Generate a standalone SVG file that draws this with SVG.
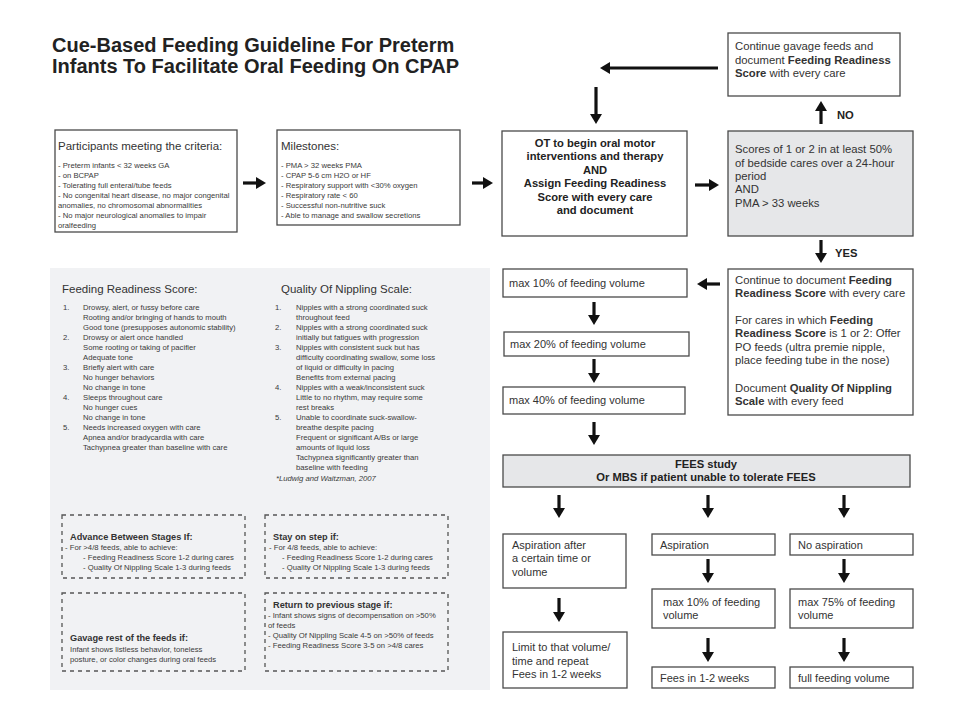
<svg xmlns="http://www.w3.org/2000/svg" width="960" height="720" viewBox="0 0 960 720">
<style>
text{font-family:"Liberation Sans",Arial,sans-serif;fill:#2a2a2a}
.title{font-size:20px;font-weight:bold;fill:#222}
.box{fill:#fff;stroke:#4a4a4a;stroke-width:1.3}
.gbox{fill:#e6e7e9;stroke:#4a4a4a;stroke-width:1.3}
.dash{fill:none;stroke:#555;stroke-width:1.3;stroke-dasharray:4 4}
.h1{font-size:11.5px;fill:#333}
.sm{font-size:7.7px;fill:#3a3a3a}
.md{font-size:11.3px;fill:#333}
.mb{font-size:11.2px;font-weight:bold;fill:#222}
.vb{font-size:11px;fill:#333}
.db{font-size:9.2px;font-weight:bold;fill:#333}
.it{font-style:italic}
.b{font-weight:bold}
.arr line{stroke:#111;stroke-width:3.2;marker-end:url(#ah)}
</style>
<defs>
<marker id="ah" viewBox="0 0 10 12" markerUnits="userSpaceOnUse" markerWidth="10" markerHeight="12" refX="4" refY="6" orient="auto">
<path d="M0,0 L10,6 L0,12 z" fill="#111"/>
</marker>
</defs>
<rect width="960" height="720" fill="#fff"/>

<g id="title">
<text class="title" x="52" y="52">Cue-Based Feeding Guideline For Preterm</text>
<text class="title" x="52" y="73">Infants To Facilitate Oral Feeding On CPAP</text>
</g>

<g id="gavage">
<rect class="box" x="728" y="33" width="172" height="63"/>
<text class="md" x="735" y="50">Continue gavage feeds and</text>
<text class="md" x="735" y="64">document <tspan class="b">Feeding Readiness</tspan></text>
<text class="md" x="735" y="77"><tspan class="b">Score</tspan> with every care</text>
</g>

<g id="participants">
<rect class="box" x="55" y="130" width="182" height="102"/>
<text class="h1" x="58" y="150">Participants meeting the criteria:</text>
<text class="sm" x="58" y="168">- Preterm infants &lt; 32 weeks GA</text>
<text class="sm" x="58" y="178">- on BCPAP</text>
<text class="sm" x="58" y="188">- Tolerating full enteral/tube feeds</text>
<text class="sm" x="58" y="198">- No congenital heart disease, no major congenital</text>
<text class="sm" x="58" y="208">anomalies, no chromosomal abnormalities</text>
<text class="sm" x="58" y="218">- No major neurological anomalies to impair</text>
<text class="sm" x="58" y="228">oralfeeding</text>
</g>

<g id="milestones">
<rect class="box" x="277" y="130" width="183" height="95"/>
<text class="h1" x="281" y="150">Milestones:</text>
<text class="sm" x="281" y="168">- PMA &gt; 32 weeks PMA</text>
<text class="sm" x="281" y="178">- CPAP 5-6 cm H2O or HF</text>
<text class="sm" x="281" y="188">- Respiratory support with &lt;30% oxygen</text>
<text class="sm" x="281" y="198">- Respiratory rate &lt; 60</text>
<text class="sm" x="281" y="208">- Successful non-nutritive suck</text>
<text class="sm" x="281" y="218">- Able to manage and swallow secretions</text>
</g>

<g id="ot">
<rect class="box" x="502" y="131" width="185" height="105"/>
<g text-anchor="middle">
<text class="mb" x="595" y="147">OT to begin oral motor</text>
<text class="mb" x="595" y="160">interventions and therapy</text>
<text class="mb" x="595" y="174">AND</text>
<text class="mb" x="595" y="187">Assign Feeding Readiness</text>
<text class="mb" x="595" y="201">Score with every care</text>
<text class="mb" x="595" y="214">and document</text>
</g>
</g>

<g id="scores">
<rect class="gbox" x="728" y="131" width="185" height="105"/>
<text class="md" x="735" y="153">Scores of 1 or 2 in at least 50%</text>
<text class="md" x="735" y="167">of bedside cares over a 24-hour</text>
<text class="md" x="735" y="180">period</text>
<text class="md" x="735" y="193">AND</text>
<text class="md" x="735" y="207">PMA &gt; 33 weeks</text>
</g>

<g id="panel">
<rect x="50" y="268" width="440" height="422" fill="#f1f2f4"/>
<g id="readiness">
<text class="h1" x="62" y="293">Feeding Readiness Score:</text>
<text class="sm" x="63" y="310">1.</text><text class="sm" x="83" y="310">Drowsy, alert, or fussy before care</text>
<text class="sm" x="83" y="320">Rooting and/or bringing of hands to mouth</text>
<text class="sm" x="83" y="330">Good tone (presupposes autonomic stability)</text>
<text class="sm" x="63" y="340">2.</text><text class="sm" x="83" y="340">Drowsy or alert once handled</text>
<text class="sm" x="83" y="350">Some rooting or taking of pacifier</text>
<text class="sm" x="83" y="360">Adequate tone</text>
<text class="sm" x="63" y="370">3.</text><text class="sm" x="83" y="370">Briefly alert with care</text>
<text class="sm" x="83" y="380">No hunger behaviors</text>
<text class="sm" x="83" y="390">No change in tone</text>
<text class="sm" x="63" y="400">4.</text><text class="sm" x="83" y="400">Sleeps throughout care</text>
<text class="sm" x="83" y="410">No hunger cues</text>
<text class="sm" x="83" y="420">No change in tone</text>
<text class="sm" x="63" y="430">5.</text><text class="sm" x="83" y="430">Needs increased oxygen with care</text>
<text class="sm" x="83" y="440">Apnea and/or bradycardia with care</text>
<text class="sm" x="83" y="450">Tachypnea greater than baseline with care</text>
</g>
<g id="nippling">
<text class="h1" x="281" y="293">Quality Of Nippling Scale:</text>
<text class="sm" x="275" y="310">1.</text><text class="sm" x="296" y="310">Nipples with a strong coordinated suck</text>
<text class="sm" x="296" y="320">throughout feed</text>
<text class="sm" x="275" y="330">2.</text><text class="sm" x="296" y="330">Nipples with a strong coordinated suck</text>
<text class="sm" x="296" y="340">initially but fatigues with progression</text>
<text class="sm" x="275" y="350">3.</text><text class="sm" x="296" y="350">Nipples with consistent suck but has</text>
<text class="sm" x="296" y="360">difficulty coordinating swallow, some loss</text>
<text class="sm" x="296" y="370">of liquid or difficulty in pacing</text>
<text class="sm" x="296" y="380">Benefits from external pacing</text>
<text class="sm" x="275" y="390">4.</text><text class="sm" x="296" y="390">Nipples with a weak/inconsistent suck</text>
<text class="sm" x="296" y="400">Little to no rhythm, may require some</text>
<text class="sm" x="296" y="410">rest breaks</text>
<text class="sm" x="275" y="420">5.</text><text class="sm" x="296" y="420">Unable to coordinate suck-swallow-</text>
<text class="sm" x="296" y="430">breathe despite pacing</text>
<text class="sm" x="296" y="440">Frequent or significant A/Bs or large</text>
<text class="sm" x="296" y="450">amounts of liquid loss</text>
<text class="sm" x="296" y="460">Tachypnea significantly greater than</text>
<text class="sm" x="296" y="470">baseline with feeding</text>
<text class="sm it" x="276" y="481">*Ludwig and Waitzman, 2007</text>
</g>
<g id="advance">
<rect class="dash" x="62" y="515" width="183" height="63"/>
<text class="db" x="70" y="540">Advance Between Stages If:</text>
<text class="sm" x="65" y="550">- For &gt;4/8 feeds, able to achieve:</text>
<text class="sm" x="83" y="560">- Feeding Readiness Score 1-2 during cares</text>
<text class="sm" x="83" y="570">- Quality Of Nippling Scale 1-3 during feeds</text>
</g>
<g id="stay">
<rect class="dash" x="265" y="515" width="183" height="63"/>
<text class="db" x="273" y="540">Stay on step if:</text>
<text class="sm" x="269" y="550">- For 4/8 feeds, able to achieve:</text>
<text class="sm" x="282" y="560">- Feeding Readiness Score 1-2 during cares</text>
<text class="sm" x="282" y="570">- Quality Of Nippling Scale 1-3 during feeds</text>
</g>
<g id="gavage-rest">
<rect class="dash" x="62" y="593" width="183" height="78"/>
<text class="db" x="70" y="641">Gavage rest of the feeds if:</text>
<text class="sm" x="70" y="652">Infant shows listless behavior, toneless</text>
<text class="sm" x="70" y="662">posture, or color changes during oral feeds</text>
</g>
<g id="return">
<rect class="dash" x="265" y="593" width="183" height="78"/>
<text class="db" x="273" y="608">Return to previous stage if:</text>
<text class="sm" x="268" y="618">- Infant shows signs of decompensation on &gt;50%</text>
<text class="sm" x="268" y="628">of feeds</text>
<text class="sm" x="268" y="638">- Quality Of Nippling Scale 4-5 on &gt;50% of feeds</text>
<text class="sm" x="268" y="648">- Feeding Readiness Score 3-5 on &gt;4/8 cares</text>
</g>
</g>

<g id="max10">
<rect class="box" x="503" y="269" width="184" height="28"/>
<text class="vb" x="509" y="287">max 10% of feeding volume</text>
</g>
<g id="max20">
<rect class="box" x="504" y="332" width="185" height="24"/>
<text class="vb" x="510" y="348">max 20% of feeding volume</text>
</g>
<g id="max40">
<rect class="box" x="503" y="387" width="182" height="27"/>
<text class="vb" x="509" y="404">max 40% of feeding volume</text>
</g>

<g id="document">
<rect class="box" x="728" y="269" width="185" height="146"/>
<text class="md" x="735" y="284">Continue to document <tspan class="b">Feeding</tspan></text>
<text class="md" x="735" y="297"><tspan class="b">Readiness Score</tspan> with every care</text>
<text class="md" x="735" y="324">For cares in which <tspan class="b">Feeding</tspan></text>
<text class="md" x="735" y="337"><tspan class="b">Readiness Score</tspan> is 1 or 2: Offer</text>
<text class="md" x="735" y="351">PO feeds (ultra premie nipple,</text>
<text class="md" x="735" y="364">place feeding tube in the nose)</text>
<text class="md" x="735" y="392">Document <tspan class="b">Quality Of Nippling</tspan></text>
<text class="md" x="735" y="405"><tspan class="b">Scale</tspan> with every feed</text>
</g>

<g id="fees">
<rect class="gbox" x="503" y="455" width="407" height="32"/>
<text class="mb" x="706" y="468" text-anchor="middle">FEES study</text>
<text class="mb" x="706" y="481" text-anchor="middle">Or MBS if patient unable to tolerate FEES</text>
</g>

<g id="asp-after">
<rect class="box" x="503" y="534" width="123" height="54"/>
<text class="vb" x="512" y="549">Aspiration after</text>
<text class="vb" x="512" y="562">a certain time or</text>
<text class="vb" x="512" y="576">volume</text>
</g>
<g id="aspiration">
<rect class="box" x="652" y="534" width="123" height="21"/>
<text class="vb" x="660" y="549">Aspiration</text>
</g>
<g id="no-aspiration">
<rect class="box" x="790" y="534" width="123" height="21"/>
<text class="vb" x="798" y="549">No aspiration</text>
</g>
<g id="asp-max10">
<rect class="box" x="652" y="589" width="123" height="39"/>
<text class="vb" x="663" y="606">max 10% of feeding</text>
<text class="vb" x="663" y="619">volume</text>
</g>
<g id="noasp-max75">
<rect class="box" x="790" y="589" width="123" height="39"/>
<text class="vb" x="798" y="606">max 75% of feeding</text>
<text class="vb" x="798" y="619">volume</text>
</g>
<g id="limit">
<rect class="box" x="503" y="632" width="124" height="56"/>
<text class="vb" x="512" y="651">Limit to that volume/</text>
<text class="vb" x="512" y="665">time and repeat</text>
<text class="vb" x="512" y="678">Fees in 1-2 weeks</text>
</g>
<g id="fees-weeks">
<rect class="box" x="652" y="667" width="123" height="21"/>
<text class="vb" x="660" y="682">Fees in 1-2 weeks</text>
</g>
<g id="full">
<rect class="box" x="790" y="667" width="123" height="21"/>
<text class="vb" x="798" y="682">full feeding volume</text>
</g>

<g id="connectors" class="arr">
<line x1="718" y1="68" x2="606" y2="68"/>
<line x1="596" y1="87" x2="596" y2="118"/>
<line x1="821" y1="124" x2="821" y2="107"/>
<line x1="243" y1="183" x2="260" y2="183"/>
<line x1="472" y1="183" x2="487" y2="183"/>
<line x1="695" y1="185" x2="713" y2="185"/>
<line x1="821" y1="240" x2="821" y2="257"/>
<line x1="720" y1="284" x2="703" y2="284"/>
<line x1="594" y1="302" x2="594" y2="319"/>
<line x1="594" y1="359" x2="594" y2="377"/>
<line x1="594" y1="422" x2="594" y2="439"/>
<line x1="559" y1="495" x2="559" y2="512"/>
<line x1="708" y1="495" x2="708" y2="512"/>
<line x1="844" y1="495" x2="844" y2="512"/>
<line x1="708" y1="559" x2="708" y2="577"/>
<line x1="844" y1="559" x2="844" y2="577"/>
<line x1="559" y1="598" x2="559" y2="616"/>
<line x1="708" y1="638" x2="708" y2="656"/>
<line x1="844" y1="638" x2="844" y2="656"/>
</g>
<g id="labels">
<text class="mb" x="837" y="119">NO</text>
<text class="mb" x="835" y="257">YES</text>
</g>
</svg>
